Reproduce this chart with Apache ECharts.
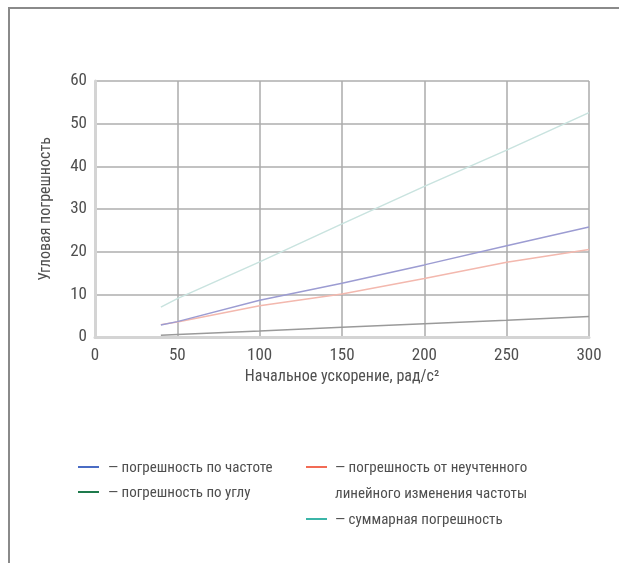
<!DOCTYPE html>
<html>
<head>
<meta charset="utf-8">
<script src="https://cdn.jsdelivr.net/npm/echarts@6/dist/echarts.min.js"></script>
<style>
html,body{margin:0;padding:0;background:#fff;}
#chart{width:619px;height:563px;}
</style>
</head>
<body>
<div id="chart"></div>
<script>
const xValues = [40, 50, 100, 150, 200, 250, 300];
const freqError = [2.8, 3.6, 8.6, 12.6, 16.9, 21.4, 25.8];
const linearError = [2.9, 3.5, 7.3, 10.1, 13.7, 17.5, 20.5];
const angleError = [0.4, 0.6, 1.4, 2.3, 3.1, 3.9, 4.8];
const totalError = [7.0, 9.0, 17.6, 26.5, 35.3, 43.8, 52.6];
const seriesNames = [
  '— погрешность по частоте',
  '— погрешность по углу',
  '— погрешность от неучтенного',
  'линейного изменения частоты',
  '— суммарная погрешность'
];
const xAxisTitle = 'Начальное ускорение, рад/с²';
const yAxisTitle = 'Угловая погрешность';

const FONT = '"Roboto Condensed", "Liberation Sans Narrow", sans-serif';
const TXT = '#4f4f4f';

function pairs(ys) { return xValues.map((x, i) => [x, ys[i]]); }

const chart = echarts.init(document.getElementById('chart'), null, {renderer: 'canvas'});

const legendColors = ['#4a6cc4', '#1e7a4c', '#f26b55', '#3bb5a8'];

function legLine(x, y, color) {
  return {type: 'line', shape: {x1: x, y1: y, x2: x + 21, y2: y}, style: {stroke: color, lineWidth: 2}};
}
function legText(x, y, t) {
  return {type: 'text', x: x, y: y, style: {text: t, fill: TXT, font: '15px ' + FONT, verticalAlign: 'middle'}};
}

chart.setOption({
  animation: false,
  backgroundColor: '#ffffff',
  grid: {left: 95, right: 30, top: 81, bottom: 226, containLabel: false},
  xAxis: {
    type: 'value', min: 0, max: 300, interval: 50,
    name: xAxisTitle, nameLocation: 'middle', nameGap: 32,
    nameTextStyle: {color: TXT, fontSize: 16, fontFamily: FONT},
    axisLine: {show: true, lineStyle: {color: '#d4d4d4', width: 3}},
    axisTick: {show: false},
    axisLabel: {color: TXT, fontSize: 17, fontFamily: FONT, margin: 10},
    splitLine: {show: true, lineStyle: {color: '#ababab', width: 1.5}}
  },
  yAxis: {
    type: 'value', min: 0, max: 60, interval: 10,
    name: yAxisTitle, nameLocation: 'middle', nameGap: 41, nameRotate: 90,
    nameTextStyle: {color: TXT, fontSize: 16, fontFamily: FONT},
    axisLine: {show: true, lineStyle: {color: '#d4d4d4', width: 3}},
    axisTick: {show: false},
    axisLabel: {color: TXT, fontSize: 17, fontFamily: FONT, margin: 8},
    splitLine: {show: true, lineStyle: {color: '#c2c2c2', width: 2}}
  },
  series: [
    {name: seriesNames[4], type: 'line', data: pairs(totalError), showSymbol: false, lineStyle: {color: '#c9e3df', width: 1.5}, z: 3},
    {name: seriesNames[2], type: 'line', data: pairs(linearError), showSymbol: false, lineStyle: {color: '#f3b8ae', width: 1.5}, z: 3},
    {name: seriesNames[0], type: 'line', data: pairs(freqError), showSymbol: false, lineStyle: {color: '#9c9cd2', width: 1.5}, z: 4},
    {name: seriesNames[1], type: 'line', data: pairs(angleError), showSymbol: false, lineStyle: {color: '#9a9a9a', width: 1.5}, z: 4}
  ],
  graphic: [
    {type: 'line', shape: {x1: 8, y1: 8, x2: 619, y2: 8}, style: {stroke: '#8a8a8a', lineWidth: 2}},
    {type: 'line', shape: {x1: 9, y1: 8, x2: 9, y2: 563}, style: {stroke: '#8a8a8a', lineWidth: 2}},
    legLine(78, 467, legendColors[0]),
    legText(108, 468, seriesNames[0]),
    legLine(78, 492, legendColors[1]),
    legText(108, 493, seriesNames[1]),
    legLine(306, 467, legendColors[2]),
    legText(335, 468, seriesNames[2]),
    legText(335, 494, seriesNames[3]),
    legLine(306, 519, legendColors[3]),
    legText(335, 520, seriesNames[4])
  ]
});
</script>
</body>
</html>
